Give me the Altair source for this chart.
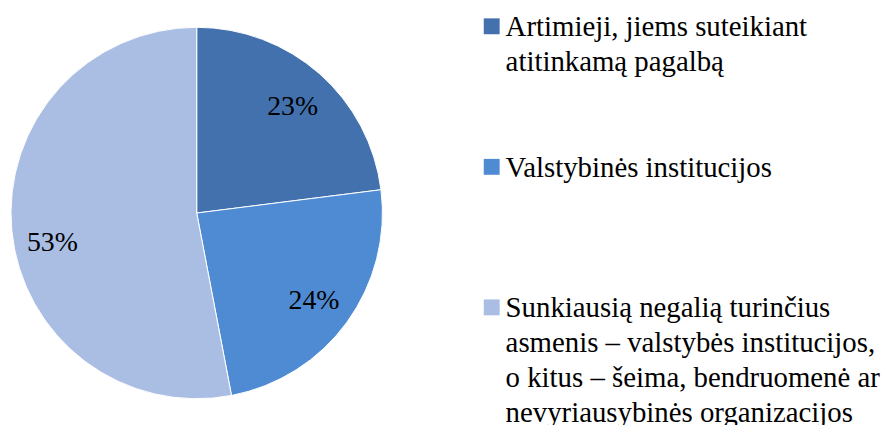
import altair as alt
import pandas as pd

categories = [
    "Artimieji, jiems suteikiant\natitinkamą pagalbą",
    "Valstybinės institucijos",
    "Sunkiausią negalią turinčius\nasmenis – valstybės institucijos,\no kitus – šeima, bendruomenė ar\nnevyriausybinės organizacijos",
]
values = [23, 24, 53]
labels = ["23%", "24%", "53%"]
colors = ["#4271AE", "#4F8BD3", "#AABEE3"]
order = [0, 1, 2]

df = pd.DataFrame({"cat": categories, "value": values, "label": labels, "idx": order})

FONT = "Times New Roman, Liberation Serif, DejaVu Serif, serif"
cx, cy = 190, 205

color_scale = alt.Scale(domain=categories, range=colors)

base = alt.Chart(df)

pie = base.mark_arc(outerRadius=187, stroke="white", strokeWidth=1).encode(
    theta=alt.Theta("value:Q", stack=True),
    color=alt.Color("cat:N", scale=color_scale, legend=None),
    order=alt.Order("idx:Q"),
    x=alt.value(cx),
    y=alt.value(cy),
)

pct_enc = dict(
    theta=alt.Theta("value:Q", stack=True),
    detail="cat:N",
    order=alt.Order("idx:Q"),
    text="label:N",
    x=alt.value(cx),
    y=alt.value(cy),
)

pct_small = base.mark_text(radius=146, dy=3, fontSize=28, font=FONT, color="black").encode(
    **pct_enc,
    opacity=alt.condition("datum.idx < 2", alt.value(1), alt.value(0)),
)
pct_big = base.mark_text(radius=146, dy=16, fontSize=28, font=FONT, color="black").encode(
    **pct_enc,
    opacity=alt.condition("datum.idx == 2", alt.value(1), alt.value(0)),
)

ypos = alt.Y("idx:Q", scale=alt.Scale(domain=[0, 2], range=[17, 300]), axis=None)

leg_sym = base.mark_square(size=256, opacity=1).encode(
    x=alt.value(487),
    y=ypos,
    color=alt.Color("cat:N", scale=color_scale, legend=None),
)

leg_txt = base.mark_text(
    align="left", baseline="alphabetic", dy=10, fontSize=29, font=FONT,
    lineHeight=35, lineBreak="\n", color="black",
).encode(
    x=alt.value(501),
    y=ypos,
    text="cat:N",
)

chart = alt.layer(pie, pct_small, pct_big, leg_sym, leg_txt).properties(
    width=884, height=417, padding=0,
    autosize=alt.AutoSizeParams(type="none"),
).configure_view(stroke=None)

chart.save("out.html", embed_options={"renderer": "svg", "actions": False})
